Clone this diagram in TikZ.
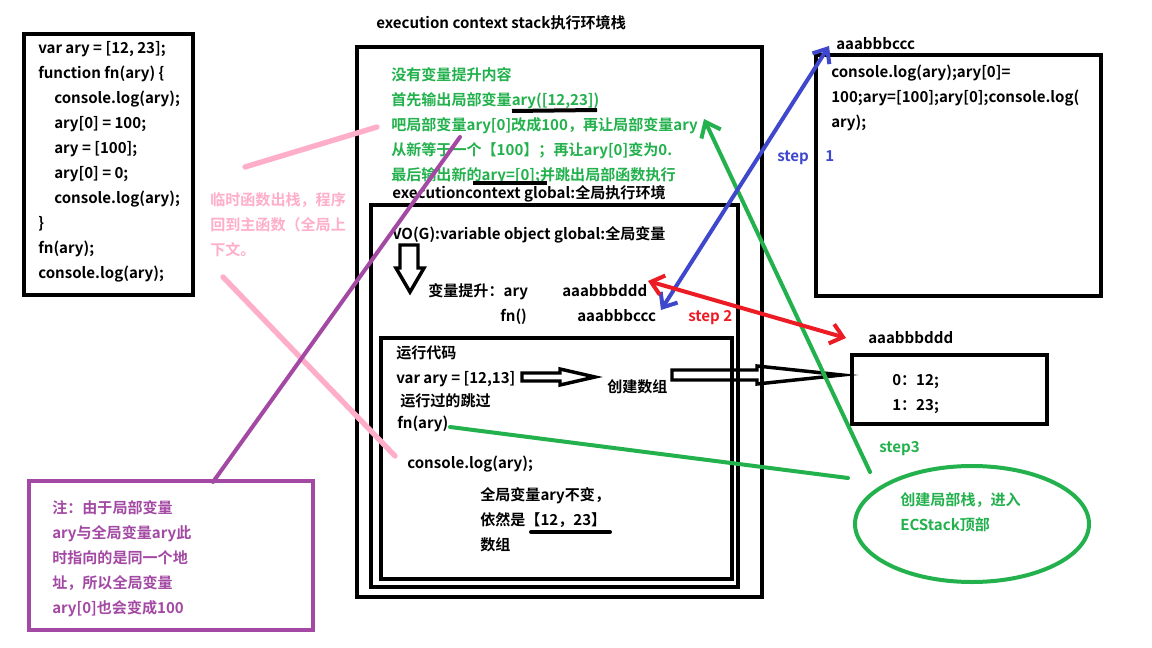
\documentclass[tikz,border=0pt]{standalone}
\usepackage{fontspec}
\setmainfont{Noto Sans CJK SC}[BoldFont={Noto Sans CJK SC Bold}]
\usetikzlibrary{arrows.meta}
\definecolor{cgreen}{HTML}{22B14C}
\definecolor{cblue}{HTML}{3F48CC}
\definecolor{cred}{HTML}{ED1C24}
\definecolor{cpink}{HTML}{FFAEC9}
\definecolor{cpurple}{HTML}{A349A4}
\tikzset{mybarb/.tip={Straight Barb[length=9pt,width=15pt,line width=3pt]}}
\begin{document}
\begin{tikzpicture}[x=0.75pt,y=-0.75pt,
  txt/.style={anchor=base west,inner sep=0pt,align=left,font=\fontsize{11.3}{18.75}\selectfont\bfseries},
  box/.style={draw,line width=3pt},
  stroke/.style={line width=3pt,line cap=round},
  hollow/.style={draw,line width=2.6pt,line join=miter}]
\useasboundingbox (0,0) rectangle (1152,648);
\fill[white] (0,0) rectangle (1152,648);

% code box (base anchor = last line baseline)
\draw[box] (24,34) rectangle (193,295);
\node[txt] (code) at (38,278.5) {var ary = [12, 23];\\function fn(ary) \{\\\hspace*{12pt}console.log(ary);\\\hspace*{12pt}ary[0] = 100;\\\hspace*{12pt}ary = [100];\\\hspace*{12pt}ary[0] = 0;\\\hspace*{12pt}console.log(ary);\\\}\\fn(ary);\\console.log(ary);};

% title
\node[txt] (title) at (376,28.5) {execution context stack执行环境栈};

% stack boxes
\draw[box] (357,47) rectangle (762,597);
\draw[box] (371,205) rectangle (738,587);
\draw[box] (381,338) rectangle (732,579);

% green local text
\node[txt,text=cgreen] (local) at (391,180.5) {没有变量提升内容\\首先输出局部变量ary([12,23])\\吧局部变量ary[0]改成100，再让局部变量ary\\从新等于一个【100】；再让ary[0]变为0.\\最后输出新的ary=[0];并跳出局部函数执行};
\draw[line width=3pt] (512,111) -- (597,110);
\draw[line width=3pt] (473,183) -- (547,183);

\node[txt] (ecg) at (392,198.5) {executioncontext global:全局执行环境};
\node[txt] (vo) at (392,239.5) {VO(G):variable object global:全局变量};
\draw[hollow] (400,245) -- (418,245) -- (418,268) -- (424,268) -- (410,292) -- (396,268) -- (400,268) -- cycle;
\node[txt] (hoist) at (428,296.5) {变量提升：ary};
\node[txt] (addrd) at (562,296.5) {aaabbbddd};
\node[txt] (fnn) at (500,321.5) {fn()};
\node[txt] (addrc) at (577,321.5) {aaabbbccc};
\node[txt,text=cred] (step2) at (688,321.5) {step 2};

% run code
\node[txt] (run) at (396,358.5) {运行代码};
\node[txt] (vary) at (396,383.5) {var ary = [12,13]};
\draw[hollow] (522,373) -- (560,373) -- (560,369) -- (595,377) -- (560,385) -- (560,381) -- (522,381) -- cycle;
\node[txt] (create) at (607,392.5) {创建数组};
\node[txt] (skip) at (400,406.5) {运行过的跳过};
\node[txt] (fnary) at (397,428.5) {fn(ary)};
\node[txt] (clog) at (407,468.5) {console.log(ary);};
\node[txt] (keep) at (480,550.5) {全局变量ary不变，\\依然是【12，23】\\数组};
\draw[line width=3pt,line cap=round] (531,532) -- (610,532);

% array object
\draw[hollow] (672,370) -- (757,370) -- (757,366) -- (842,375) -- (757,384) -- (757,380) -- (672,380) -- cycle;
\node[txt] (dlabel) at (868,343.5) {aaabbbddd};
\draw[box] (852,355) rectangle (1047,424);
\node[txt] (arr) at (892,410.5) {0：12;\\1：23;};

% function object
\node[txt] (clabel) at (836,49.5) {aaabbbccc};
\draw[box] (816,55) rectangle (1101,296);
\node[txt] (fbody) at (831,127.5) {console.log(ary);ary[0]=\\100;ary=[100];ary[0];console.log(\\ary);};
\node[txt,text=cblue] (step1a) at (777,161.5) {step};
\node[txt,text=cblue] (step1b) at (825,161.5) {1};

% ellipse
\draw[cgreen,line width=3pt] (972,524) ellipse [x radius=117, y radius=58];
\node[txt,text=cgreen] (ectext) at (900,530.5) {创建局部栈，进入\\ECStack顶部};
\node[txt,text=cgreen] (step3) at (879,452.5) {step3};

% pink
\node[txt,text=cpink] (pinktext) at (210,255.5) {临时函数出栈，程序\\回到主函数（全局上\\下文。};
\coordinate (p1a) at (245,167); \coordinate (p1b) at (377,127);
\coordinate (p2a) at (223,277); \coordinate (p2b) at (395,456);
\draw[cpink,line width=4pt,line cap=round] (p1a) -- (p1b);
\draw[cpink,line width=4pt,line cap=round] (p2a) -- (p2b);

% purple
\draw[cpurple,line width=3.5pt] (29,481) rectangle (313,630);
\node[txt,text=cpurple] (note) at (52,613.5) {注：由于局部变量\\ary与全局变量ary此\\时指向的是同一个地\\址，所以全局变量\\ary[0]也会变成100};
\coordinate (pu1) at (213,482); \coordinate (pu2) at (460,137);
\draw[cpurple,stroke] (pu1) -- (pu2);

% green connectors
\coordinate (g1) at (450,427); \coordinate (g2) at (848,478);
\draw[cgreen,stroke] (g1) -- (g2);
\coordinate (g3) at (870,472); \coordinate (g4) at (704,119);
\draw[cgreen,stroke,-{Straight Barb[length=10pt,width=16pt,line width=3pt]}] (g3) -- (g4);

% blue
\coordinate (b1) at (661,310); \coordinate (b2) at (829,46);
\draw[cblue,stroke,mybarb-mybarb] (b1) -- (b2);

% red
\coordinate (r1) at (648,281); \coordinate (r2) at (846,338);
\draw[cred,stroke,mybarb-mybarb] (r1) -- (r2);
\end{tikzpicture}
\end{document}
